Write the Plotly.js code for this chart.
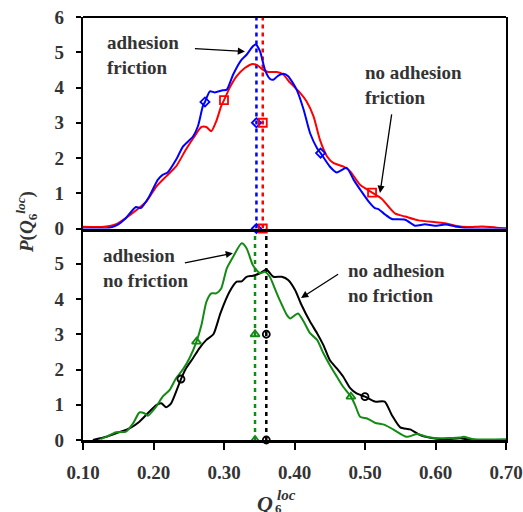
<!DOCTYPE html>
<html><head><meta charset="utf-8">
<script src="https://cdn.plot.ly/plotly-3.0.1.min.js"></script>
<style>html,body{margin:0;padding:0;background:#fff}#chart{width:523px;height:512px}</style>
</head><body><div id="chart"></div>
<script>
// ---- data ----
// top panel: adhesion + friction (blue)
const qBlue = [0.10,0.13,0.138,0.150,0.161,0.175,0.182,0.194,0.206,0.213,0.220,0.232,0.242,0.256,0.263,0.270,0.273,0.280,0.287,0.298,0.304,0.313,0.325,0.332,0.341,0.345,0.351,0.358,0.365,0.370,0.377,0.384,0.391,0.403,0.413,0.422,0.432,0.437,0.450,0.460,0.474,0.484,0.495,0.505,0.514,0.519,0.529,0.538,0.557,0.571,0.585,0.599,0.614,0.628,0.646,0.70];
const pBlue = [0,0,0.02,0.12,0.30,0.61,0.58,0.91,1.38,1.52,1.59,1.95,2.33,2.61,2.90,3.47,3.59,3.89,3.86,3.92,3.94,4.37,4.79,4.93,5.17,5.22,5.03,4.51,4.25,4.22,4.34,4.39,4.32,3.94,3.37,2.71,2.28,2.14,1.76,1.59,1.72,1.38,1.05,0.77,0.58,0.55,0.39,0.27,0.25,0.08,0.12,0.08,0.11,0.06,0.0,0];
// top panel: no adhesion + friction (red)
const qRed = [0.10,0.13,0.147,0.161,0.175,0.190,0.204,0.218,0.232,0.246,0.258,0.268,0.275,0.282,0.289,0.296,0.300,0.308,0.318,0.330,0.341,0.348,0.355,0.363,0.375,0.384,0.394,0.408,0.417,0.427,0.436,0.446,0.455,0.469,0.479,0.493,0.510,0.524,0.533,0.543,0.557,0.576,0.600,0.614,0.628,0.646,0.666,0.685,0.70];
const pRed = [0.05,0.05,0.12,0.30,0.51,0.77,1.19,1.48,1.76,2.24,2.61,2.88,2.88,2.76,3.04,3.47,3.64,3.99,4.32,4.56,4.67,4.62,4.51,4.44,4.44,4.37,4.13,3.85,3.61,3.18,2.52,2.05,1.86,1.76,1.62,1.24,1.02,0.84,0.63,0.42,0.34,0.23,0.18,0.15,0.08,0.04,0.06,0.03,0];
// bottom panel: adhesion + no friction (green)
const qGreen = [0.125,0.133,0.147,0.161,0.171,0.180,0.187,0.192,0.204,0.213,0.223,0.232,0.242,0.251,0.261,0.268,0.275,0.282,0.289,0.296,0.304,0.313,0.325,0.332,0.341,0.351,0.358,0.365,0.372,0.379,0.389,0.394,0.405,0.413,0.422,0.432,0.441,0.450,0.460,0.469,0.480,0.486,0.493,0.503,0.514,0.528,0.540,0.559,0.574,0.588,0.602,0.635,0.640,0.655,0.70];
const pGreen = [0.03,0.09,0.22,0.24,0.47,0.78,0.76,0.69,0.95,1.23,1.42,1.75,2.01,2.32,2.79,3.26,3.92,4.16,4.16,4.30,4.87,5.20,5.58,5.44,4.96,4.73,4.77,4.63,4.30,3.97,3.55,3.45,3.59,3.36,3.03,2.84,2.46,2.13,1.80,1.51,1.23,0.99,0.66,0.61,0.49,0.43,0.30,0.09,0.17,0.09,0.05,0.07,0.09,0.02,0.02];
// bottom panel: no adhesion + no friction (black)
const qBlack = [0.114,0.133,0.147,0.166,0.180,0.194,0.204,0.211,0.218,0.225,0.234,0.239,0.246,0.256,0.265,0.275,0.285,0.295,0.308,0.318,0.325,0.332,0.341,0.351,0.360,0.370,0.382,0.391,0.401,0.410,0.422,0.432,0.441,0.450,0.460,0.469,0.479,0.488,0.500,0.514,0.528,0.538,0.550,0.564,0.578,0.597,0.616,0.635,0.650,0.70];
const pBlack = [0,0.09,0.19,0.33,0.52,0.80,0.99,1.04,0.93,1.04,1.47,1.73,2.03,2.32,2.60,2.84,3.00,3.60,4.21,4.49,4.50,4.63,4.66,4.73,4.84,4.63,4.63,4.54,4.25,3.83,3.36,3.03,2.69,2.27,2.03,1.80,1.47,1.32,1.23,1.09,1.09,0.71,0.36,0.30,0.14,0.05,0.02,0.05,0,0];
// mean values (dotted lines) and marker points
const meanBlue = 0.346, meanRed = 0.355, meanGreen = 0.344, meanBlack = 0.360;
const markBlueQ = [0.273,0.437], markBlueP = [3.59,2.14];
const markRedQ = [0.300,0.510], markRedP = [3.64,1.02];
const markGreenQ = [0.261,0.480], markGreenP = [2.79,1.23];
const markBlackQ = [0.239,0.500], markBlackP = [1.73,1.23];
const xTicks = [0.10,0.20,0.30,0.40,0.50,0.60,0.70];
const xTickText = ['0.10','0.20','0.30','0.40','0.50','0.60','0.70'];
const yTicksTop = [0,1,2,3,4,5,6];
const yTicksBottom = [0,1,2,3,4,5];

const BLUE='#0000ff', RED='#ff0000', GREEN='#138a13', BLACK='#000000';
const FONT = 'Liberation Serif';

function curve(q,p,color,xa,ya){
  return {x:q,y:p,xaxis:xa,yaxis:ya,mode:'lines',line:{color:color,width:2,shape:'spline',smoothing:0.6},hoverinfo:'skip',showlegend:false};
}
function vline(m,color,xa,ya){
  return {x:[m,m],y:[0,6],xaxis:xa,yaxis:ya,mode:'lines',line:{color:color,width:2.5,dash:'4px,4px'},showlegend:false,hoverinfo:'skip'};
}
function marks(q,p,m,color,symbol,size,xa,ya){
  return {x:q.concat([m,m]),y:p.concat([3,0]),xaxis:xa,yaxis:ya,mode:'markers',cliponaxis:false,
    marker:{symbol:symbol,size:size,color:color,line:{color:color,width:1.8}},showlegend:false,hoverinfo:'skip'};
}

const traces = [
  vline(meanBlue,BLUE,'x2','y2'), vline(meanRed,RED,'x2','y2'),
  curve(qRed,pRed,RED,'x2','y2'), curve(qBlue,pBlue,BLUE,'x2','y2'),
  marks(markBlueQ,markBlueP,meanBlue,BLUE,'diamond-open',7,'x2','y2'),
  marks(markRedQ,markRedP,meanRed,RED,'square-open',8,'x2','y2'),
  vline(meanGreen,GREEN,'x','y'), vline(meanBlack,BLACK,'x','y'),
  curve(qBlack,pBlack,BLACK,'x','y'), curve(qGreen,pGreen,GREEN,'x','y'),
  marks(markGreenQ,markGreenP,meanGreen,GREEN,'triangle-up-open',8,'x','y'),
  marks(markBlackQ,markBlackP,meanBlack,BLACK,'circle-open',7,'x','y')
];

const tickFont = {family:FONT,size:19,color:'#333',weight:'bold'};
const baseY = {range:[0,6],showgrid:false,zeroline:false,fixedrange:true};
const layout = {
  width:523,height:512,margin:{l:83,r:17,t:17,b:72},
  font:{family:FONT},
  paper_bgcolor:'#fff',plot_bgcolor:'rgba(0,0,0,0)',showlegend:false,
  xaxis:{domain:[0,1],anchor:'y',range:[0.10,0.70],tickvals:xTicks,ticktext:xTickText,ticks:'outside',ticklen:7,tickwidth:2,tickcolor:'#000',
    showline:true,linewidth:3,linecolor:'#000',showgrid:false,zeroline:false,tickfont:tickFont,ticklabelstandoff:6},
  xaxis3:{overlaying:'x',anchor:'y',range:[0.10,0.70],tickvals:xTicks,ticks:'inside',ticklen:7,tickwidth:2,tickcolor:'#000',showticklabels:false,showline:false,showgrid:false,zeroline:false},
  xaxis2:{domain:[0,1],anchor:'y2',matches:'x',range:[0.10,0.70],showticklabels:false,ticks:'',showline:true,linewidth:3,linecolor:'#000',showgrid:false,zeroline:false},
  yaxis:Object.assign({},baseY,{domain:[0,0.5],anchor:'x',tickvals:yTicksBottom,ticks:'outside',ticklen:5,tickwidth:2,tickcolor:'#000',
    showline:true,mirror:true,linewidth:2.2,linecolor:'#000',tickfont:tickFont,ticklabelstandoff:8}),
  yaxis2:Object.assign({},baseY,{domain:[0.5,1],anchor:'x2',tickvals:yTicksTop,ticks:'outside',ticklen:5,tickwidth:2,tickcolor:'#000',
    showline:true,mirror:true,linewidth:2.2,linecolor:'#000',tickfont:tickFont,ticklabelstandoff:8}),
  yaxis3:Object.assign({},baseY,{overlaying:'y',anchor:'x',tickvals:yTicksBottom,ticks:'inside',ticklen:8,tickwidth:2,tickcolor:'#000',showticklabels:false,showline:false}),
  yaxis4:Object.assign({},baseY,{overlaying:'y2',anchor:'x2',tickvals:yTicksTop,ticks:'inside',ticklen:8,tickwidth:2,tickcolor:'#000',showticklabels:false,showline:false}),
  shapes:[{type:'line',xref:'paper',yref:'paper',x0:0,x1:1,y0:1,y1:1,line:{color:'#000',width:2}}],
  annotations:[]
};
const annFont = {family:FONT,size:19,color:'#333',weight:'bold'};
function label(text,x,y,xa,ya){return {text:text,x:x,y:y,xref:xa,yref:ya,xanchor:'left',yanchor:'middle',align:'left',showarrow:false,font:annFont};}
function arrow(x,y,ax,ay,xa,ya){return {text:' ',x:x,y:y,xref:xa,yref:ya,ax:ax,ay:ay,showarrow:true,arrowhead:2,arrowsize:1.1,arrowwidth:1.3,arrowcolor:'#000',font:{size:2}};}
layout.annotations.push(
  label('adhesion<br>friction',0.1308,4.93,'x2','y2'),
  arrow(0.3297,5.02,-52,-3,'x2','y2'),
  label('no adhesion<br>friction',0.4978,4.07,'x2','y2'),
  arrow(0.5213,1.01,12,-81,'x2','y2'),
  label('adhesion<br>no friction',0.1253,4.88,'x','y'),
  arrow(0.3126,5.30,-50,10,'x','y'),
  label('no adhesion<br>no friction',0.4733,4.45,'x','y'),
  arrow(0.4093,4.03,39,-25,'x','y'),
  // y-axis title
  {text:'<i>P</i>(<i>Q</i><sub>6</sub><sup><i>loc</i></sup>)',xref:'paper',yref:'paper',x:(26-83)/423,y:(440-222)/423,
   xanchor:'center',yanchor:'middle',textangle:-90,showarrow:false,font:{family:FONT,size:19,color:'#333',weight:'bold'}},
  // x-axis title Q with stacked 6 / loc
  {text:'<i>Q</i>',xref:'paper',yref:'paper',x:(265-83)/423,y:(440-503)/423,xanchor:'center',yanchor:'middle',showarrow:false,font:{family:FONT,size:22,color:'#333',weight:'bold'}},
  {text:'<i>loc</i>',xref:'paper',yref:'paper',x:(275-83)/423,y:(440-495)/423,xanchor:'left',yanchor:'middle',showarrow:false,font:{family:FONT,size:15,color:'#333',weight:'bold'}},
  {text:'6',xref:'paper',yref:'paper',x:(273-83)/423,y:(440-509)/423,xanchor:'left',yanchor:'middle',showarrow:false,font:{family:FONT,size:13,color:'#333',weight:'bold'}}
);
Plotly.newPlot('chart',traces,layout,{staticPlot:true,displayModeBar:false});
</script></body></html>
